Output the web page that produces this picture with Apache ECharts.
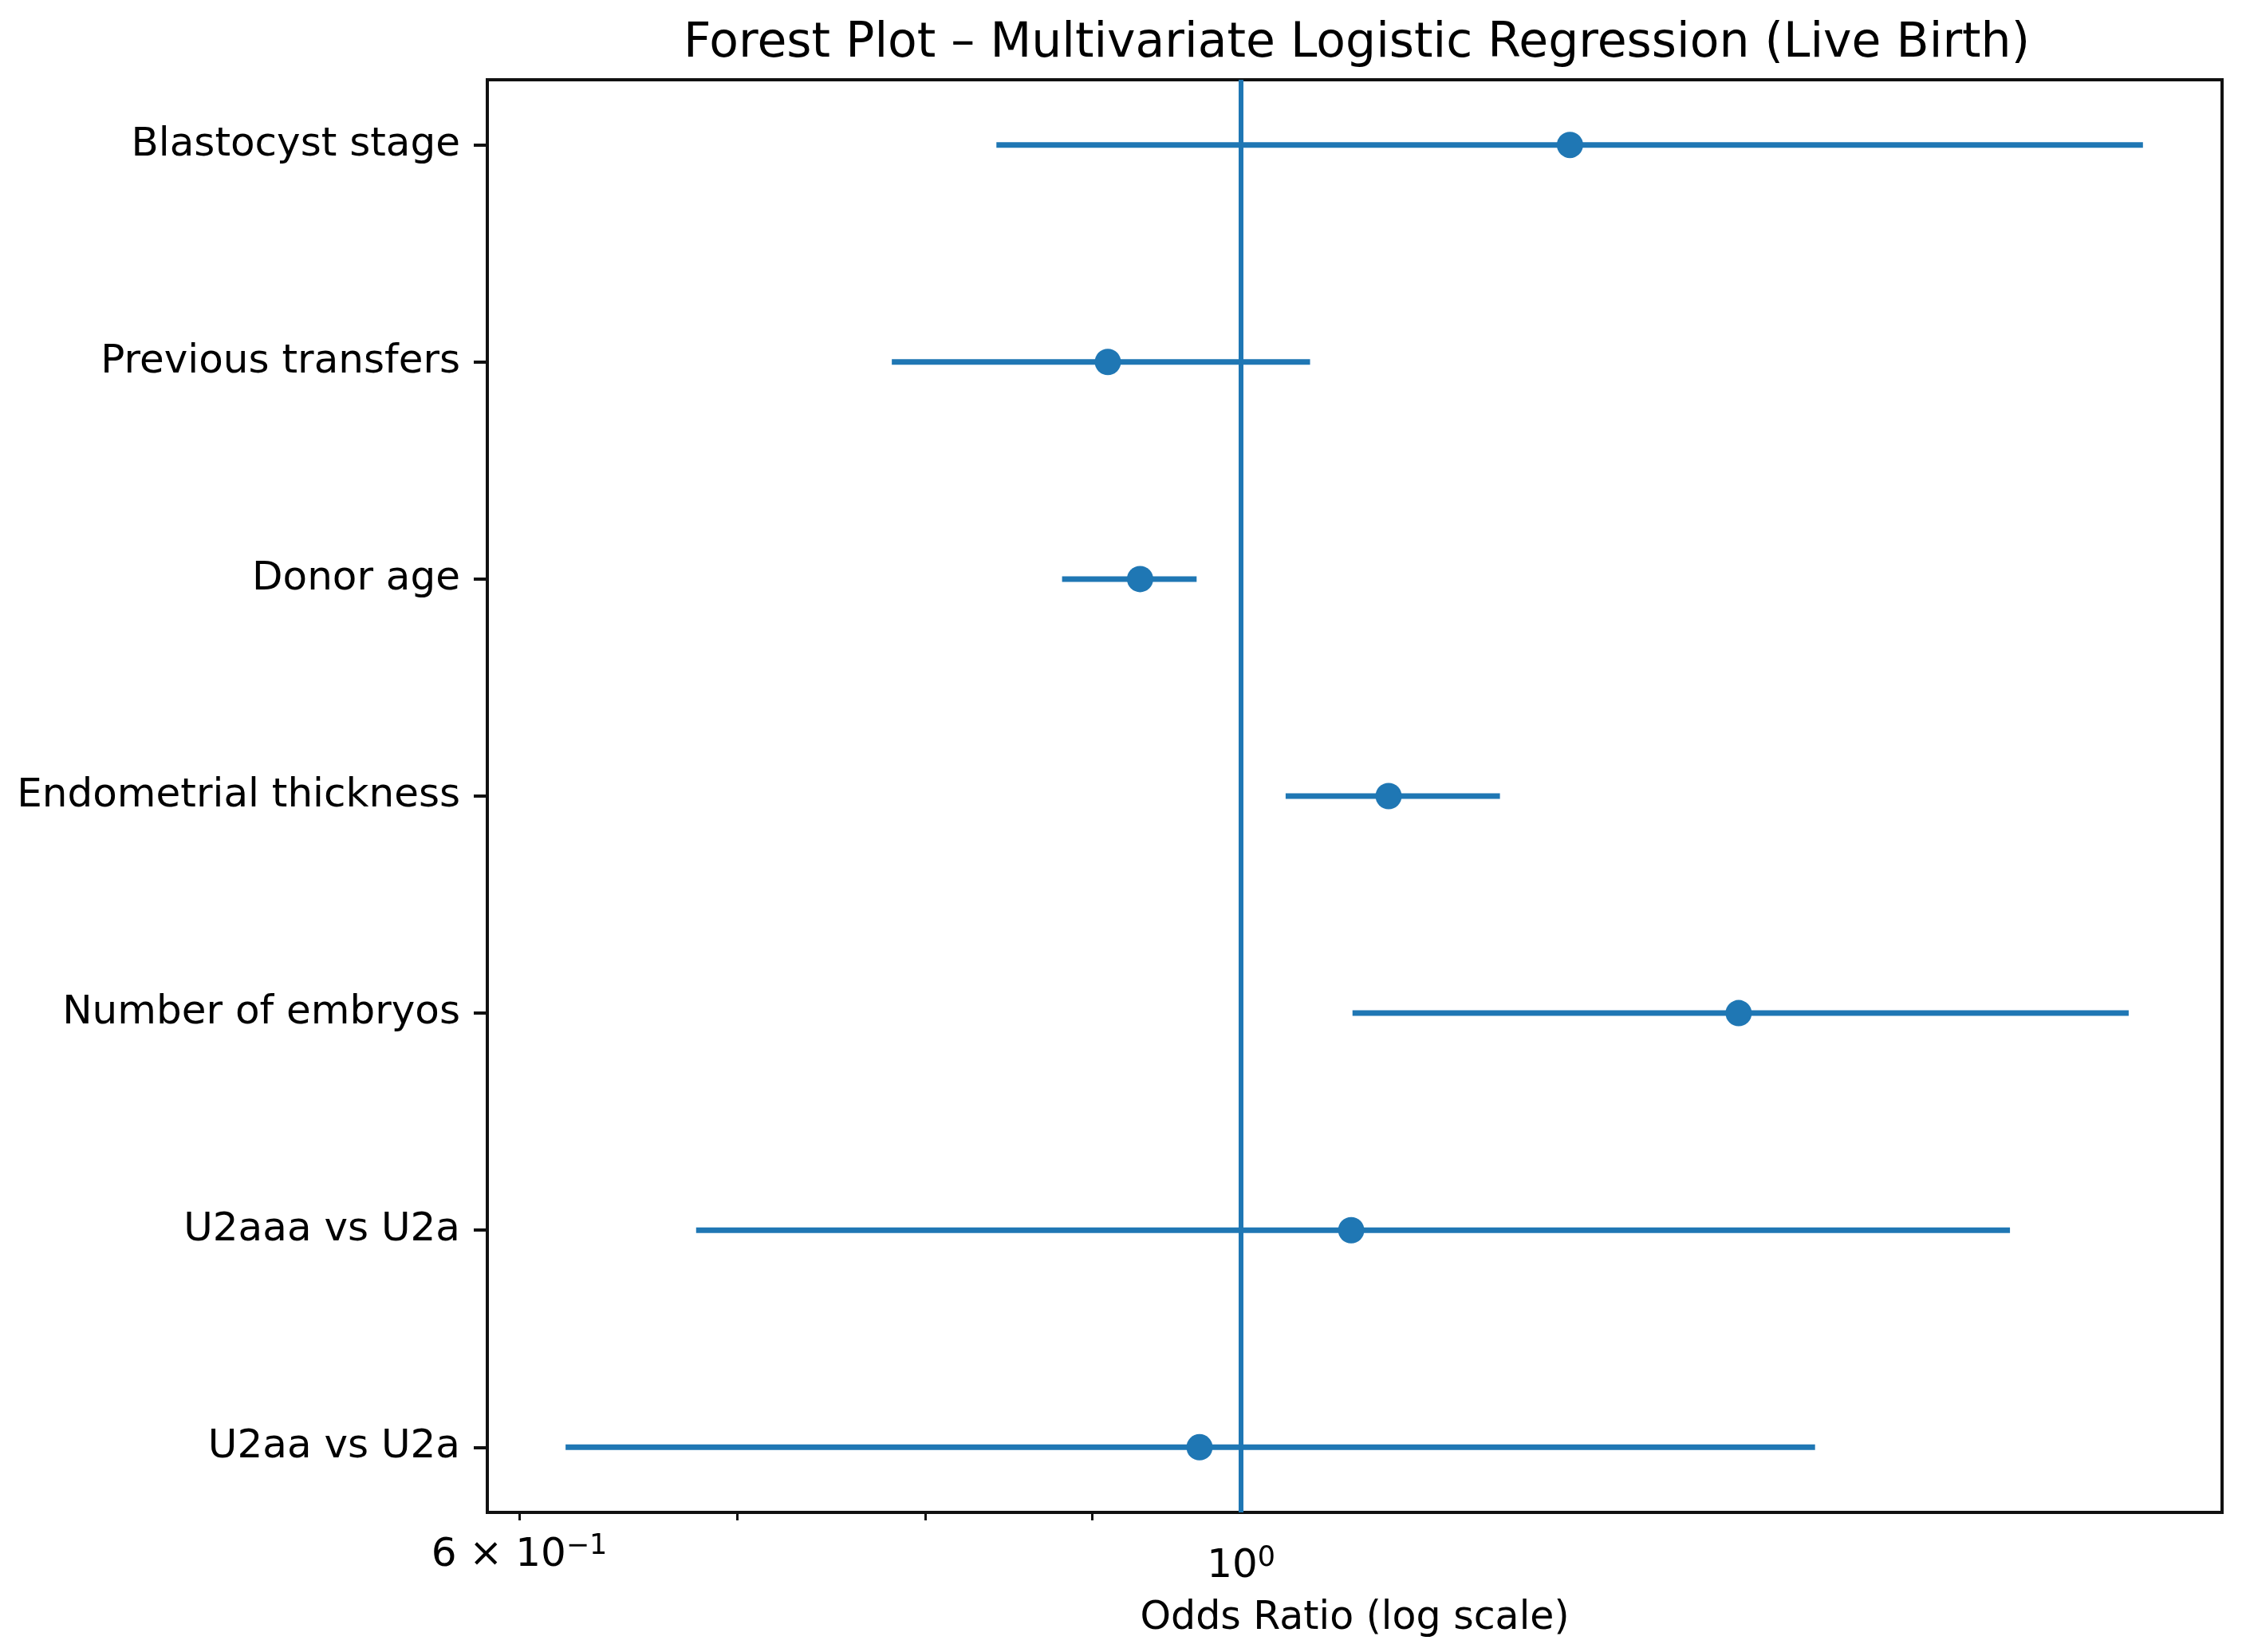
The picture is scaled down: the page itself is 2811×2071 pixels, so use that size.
<!DOCTYPE html>
<html>
<head>
<meta charset="utf-8">
<title>Forest Plot</title>
<script src="https://cdn.jsdelivr.net/npm/echarts@6/dist/echarts.min.js"></script>
<style>
  html, body { margin: 0; padding: 0; background: #fff; }
  #chart { width: 2811px; height: 2071px; }
</style>
</head>
<body>
<div id="chart"></div>
<script>
// rows listed top to bottom, as in the picture
const categories = [
  'Blastocyst stage',
  'Previous transfers',
  'Donor age',
  'Endometrial thickness',
  'Number of embryos',
  'U2aaa vs U2a',
  'U2aa vs U2a'
]
const oddsRatio = [1.262, 0.910, 0.931, 1.110, 1.422, 1.081, 0.971]
const ciLower = [0.841, 0.781, 0.881, 1.032, 1.082, 0.680, 0.620]
const ciUpper = [1.893, 1.050, 0.969, 1.201, 1.874, 1.723, 1.501]
const majorTicks = [1]
const minorTicks = [0.6, 0.7, 0.8, 0.9]
const labelTicks = [0.6, 1]

const xMin = 0.5866
const xMax = 2.002
const blue = '#1f77b4'
const font = 'DejaVu Sans'

const n = categories.length
const rowY = categories.map((c, i) => n - 1 - i)

const ciData = categories.map((c, i) => [ciLower[i], ciUpper[i], rowY[i]])
const pointData = categories.map((c, i) => [oddsRatio[i], rowY[i]])

const chart = echarts.init(document.getElementById('chart'))

// tick label pieces: top aligned, pushed down with top padding
const txt = (size, padTop) => ({
  fontFamily: font, fontSize: size, color: '#000', verticalAlign: 'top', padding: [padTop, 0, 0, 0]
})

const option = {
  animation: false,
  backgroundColor: '#fff',
  title: {
    text: 'Forest Plot \u2013 Multivariate Logistic Regression (Live Birth)',
    left: 857,
    top: 25,
    padding: 0,
    textStyle: { fontFamily: font, fontSize: 60, fontWeight: 'normal', color: '#000' }
  },
  grid: {
    left: 611,
    right: 25,
    top: 100,
    bottom: 175,
    show: true,
    borderColor: '#111',
    borderWidth: 4,
    backgroundColor: 'transparent'
  },
  xAxis: [
    {
      type: 'log',
      logBase: 10,
      min: xMin,
      max: xMax,
      position: 'bottom',
      axisLine: { show: false },
      splitLine: { show: false },
      axisTick: {
        show: true,
        customValues: majorTicks,
        length: 17,
        lineStyle: { color: '#111', width: 4 }
      },
      axisLabel: {
        show: true,
        customValues: labelTicks,
        margin: 12,
        formatter: function (v) {
          if (Math.abs(v - 1) < 1e-6) return '{b0|10}{s0|0}'
          return '{b6|6 \u00d7 10}{s6|\u22121}'
        },
        rich: {
          b0: txt(50, 31),
          s0: txt(35, 28),
          b6: txt(50, 17),
          s6: txt(35, 13)
        }
      },
      name: 'Odds Ratio (log scale)',
      nameLocation: 'middle',
      nameGap: 109,
      nameTextStyle: { fontFamily: font, fontSize: 49, color: '#000' }
    },
    {
      type: 'log',
      logBase: 10,
      min: xMin,
      max: xMax,
      position: 'bottom',
      axisLine: { show: false },
      splitLine: { show: false },
      axisTick: {
        show: true,
        customValues: minorTicks,
        length: 10,
        lineStyle: { color: '#111', width: 3 }
      },
      axisLabel: { show: false }
    }
  ],
  yAxis: {
    type: 'value',
    min: -0.3,
    max: n - 1 + 0.3,
    axisLine: { show: false },
    splitLine: { show: false },
    axisTick: {
      show: true,
      customValues: rowY,
      length: 17,
      lineStyle: { color: '#111', width: 4 }
    },
    axisLabel: {
      show: true,
      customValues: rowY,
      margin: 34,
      fontFamily: font,
      fontSize: 50,
      color: '#000',
      formatter: function (v) {
        return categories[n - 1 - Math.round(v)]
      }
    }
  },
  series: [
    {
      type: 'custom',
      xAxisIndex: 0,
      data: ciData,
      encode: { x: [0, 1], y: 2 },
      renderItem: function (params, api) {
        const p1 = api.coord([api.value(0), api.value(2)])
        const p2 = api.coord([api.value(1), api.value(2)])
        return {
          type: 'line',
          shape: { x1: p1[0], y1: p1[1], x2: p2[0], y2: p2[1] },
          style: { stroke: blue, lineWidth: 7 }
        }
      },
      z: 2
    },
    {
      type: 'scatter',
      xAxisIndex: 0,
      data: pointData,
      symbol: 'circle',
      symbolSize: 33,
      itemStyle: { color: blue, opacity: 1 },
      z: 3,
      markLine: {
        silent: true,
        symbol: ['none', 'none'],
        label: { show: false },
        lineStyle: { color: blue, width: 6, type: 'solid' },
        data: [{ xAxis: 1 }]
      }
    }
  ]
}

chart.setOption(option)
</script>
</body>
</html>
